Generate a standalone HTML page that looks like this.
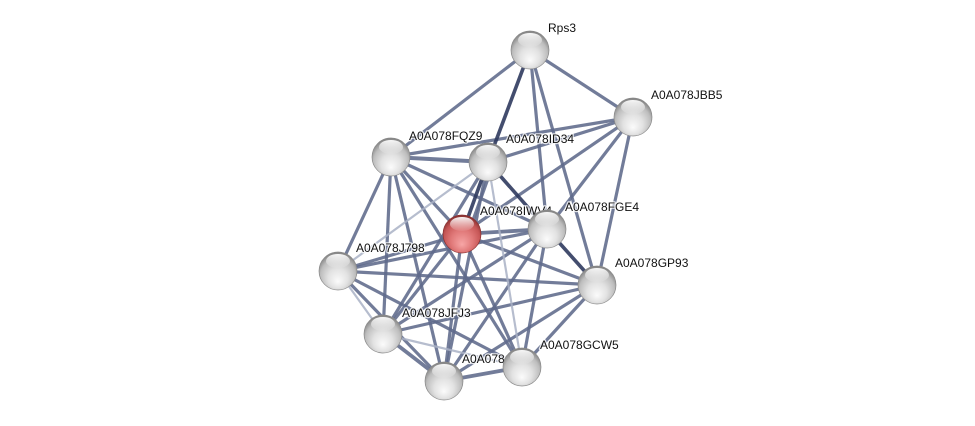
<!DOCTYPE html>
<html>
<head>
<meta charset="utf-8">
<style>
html,body{margin:0;padding:0;background:#fff;}
svg{display:block;}
text{font-family:"Liberation Sans",Arial,sans-serif;font-size:12px;fill:#111;paint-order:stroke;stroke:#ffffff;stroke-width:2.5px;stroke-opacity:0.8;stroke-linejoin:round;}
</style>
</head>
<body>
<svg width="975" height="426" viewBox="0 0 975 426" xmlns="http://www.w3.org/2000/svg">
<defs>
  <radialGradient id="gw" cx="50%" cy="60%" r="58%" fx="50%" fy="78%">
    <stop offset="0%" stop-color="#fbfbfb"/>
    <stop offset="45%" stop-color="#e2e2e2"/>
    <stop offset="80%" stop-color="#bdbdbd"/>
    <stop offset="100%" stop-color="#848484"/>
  </radialGradient>
  <radialGradient id="gr" cx="50%" cy="60%" r="58%" fx="50%" fy="78%">
    <stop offset="0%" stop-color="#f7a6a6"/>
    <stop offset="50%" stop-color="#e07878"/>
    <stop offset="82%" stop-color="#c65656"/>
    <stop offset="100%" stop-color="#8a3232"/>
  </radialGradient>
  <linearGradient id="hl" x1="0" y1="0" x2="0" y2="1">
    <stop offset="0%" stop-color="#ffffff" stop-opacity="0.95"/>
    <stop offset="100%" stop-color="#ffffff" stop-opacity="0.05"/>
  </linearGradient>
  <g id="hlg"><ellipse cx="0" cy="-10" rx="12" ry="7" fill="url(#hl)"/></g>
</defs>

<g stroke-linecap="butt" fill="none">
  <g stroke="#5f6a8b" stroke-width="3.2" stroke-opacity="0.88">
    <line x1="530" y1="50" x2="391" y2="157"/>
    <line x1="530" y1="50" x2="633" y2="117"/>
    <line x1="530" y1="50" x2="547" y2="229"/>
    <line x1="530" y1="50" x2="597" y2="285"/>
    <line x1="633" y1="117" x2="391" y2="157"/>
    <line x1="633" y1="117" x2="488" y2="162"/>
    <line x1="633" y1="117" x2="462" y2="234"/>
    <line x1="633" y1="117" x2="547" y2="229"/>
    <line x1="633" y1="117" x2="597" y2="285"/>
    <line x1="391" y1="157" x2="488" y2="162" stroke-width="4"/>
    <line x1="391" y1="157" x2="338" y2="271"/>
    <line x1="391" y1="157" x2="383" y2="334"/>
    <line x1="391" y1="157" x2="444" y2="381"/>
    <line x1="391" y1="157" x2="462" y2="234"/>
    <line x1="391" y1="157" x2="547" y2="229"/>
    <line x1="391" y1="157" x2="522" y2="367"/>
    <line x1="488" y1="162" x2="383" y2="334"/>
    <line x1="488" y1="162" x2="444" y2="381"/>
    <line x1="494" y1="162" x2="468" y2="234"/>
    <line x1="462" y1="234" x2="547" y2="229" stroke-width="3.8"/>
    <line x1="462" y1="234" x2="338" y2="271"/>
    <line x1="462" y1="234" x2="383" y2="334"/>
    <line x1="462" y1="234" x2="522" y2="367"/>
    <line x1="462" y1="234" x2="597" y2="285"/>
    <line x1="462" y1="234" x2="444" y2="381"/>
    <line x1="547" y1="229" x2="338" y2="271"/>
    <line x1="547" y1="229" x2="383" y2="334"/>
    <line x1="547" y1="229" x2="444" y2="381"/>
    <line x1="547" y1="229" x2="522" y2="367"/>
    <line x1="338" y1="271" x2="597" y2="285"/>
    <line x1="338" y1="271" x2="444" y2="381"/>
    <line x1="338" y1="271" x2="522" y2="367"/>
    <line x1="597" y1="285" x2="383" y2="334"/>
    <line x1="597" y1="285" x2="444" y2="381"/>
    <line x1="597" y1="285" x2="522" y2="367"/>
    <line x1="383" y1="334" x2="444" y2="381" stroke-width="3.8"/>
    <line x1="444" y1="381" x2="522" y2="367" stroke-width="3.8"/>
  </g>
  <g stroke="#2f3a5e" stroke-width="3.6" stroke-opacity="0.9">
    <line x1="530" y1="50" x2="488" y2="162"/>
    <line x1="488" y1="162" x2="462" y2="234"/>
    <line x1="488" y1="162" x2="547" y2="229"/>
    <line x1="547" y1="229" x2="597" y2="285"/>
  </g>
  <g stroke="#a9b1c6" stroke-width="2.2" stroke-opacity="0.85">
    <line x1="488" y1="162" x2="338" y2="271"/>
    <line x1="488" y1="162" x2="522" y2="367"/>
    <line x1="338" y1="271" x2="383" y2="334"/>
    <line x1="383" y1="334" x2="522" y2="367"/>
  </g>
</g>

<g>
  <text x="548" y="32">Rps3</text>
  <text x="651" y="99">A0A078JBB5</text>
  <text x="409" y="140">A0A078FQZ9</text>
  <text x="506" y="143">A0A078ID34</text>
  <text x="480" y="215">A0A078IWV4</text>
  <text x="565" y="211">A0A078FGE4</text>
  <text x="356" y="252">A0A078J798</text>
  <text x="615" y="267">A0A078GP93</text>
  <text x="402" y="317">A0A078JFJ3</text>
  <text x="462" y="363">A0A078GHK2</text>
  <text x="540" y="349">A0A078GCW5</text>
</g>

<g>
  <g transform="translate(530,50)"><circle r="19" fill="url(#gw)" stroke="#8a8a8a" stroke-width="0.7"/><use href="#hlg"/></g>
  <g transform="translate(633,117)"><circle r="19" fill="url(#gw)" stroke="#8a8a8a" stroke-width="0.7"/><use href="#hlg"/></g>
  <g transform="translate(391,157)"><circle r="19" fill="url(#gw)" stroke="#8a8a8a" stroke-width="0.7"/><use href="#hlg"/></g>
  <g transform="translate(488,162)"><circle r="19" fill="url(#gw)" stroke="#8a8a8a" stroke-width="0.7"/><use href="#hlg"/></g>
  <g transform="translate(462,234)"><circle r="19" fill="url(#gr)" stroke="#8a3232" stroke-width="0.7"/><use href="#hlg"/></g>
  <g transform="translate(547,229)"><circle r="19" fill="url(#gw)" stroke="#8a8a8a" stroke-width="0.7"/><use href="#hlg"/></g>
  <g transform="translate(338,271)"><circle r="19" fill="url(#gw)" stroke="#8a8a8a" stroke-width="0.7"/><use href="#hlg"/></g>
  <g transform="translate(597,285)"><circle r="19" fill="url(#gw)" stroke="#8a8a8a" stroke-width="0.7"/><use href="#hlg"/></g>
  <g transform="translate(383,334)"><circle r="19" fill="url(#gw)" stroke="#8a8a8a" stroke-width="0.7"/><use href="#hlg"/></g>
  <g transform="translate(444,381)"><circle r="19" fill="url(#gw)" stroke="#8a8a8a" stroke-width="0.7"/><use href="#hlg"/></g>
  <g transform="translate(522,367)"><circle r="19" fill="url(#gw)" stroke="#8a8a8a" stroke-width="0.7"/><use href="#hlg"/></g>
</g>
</svg>
</body>
</html>
